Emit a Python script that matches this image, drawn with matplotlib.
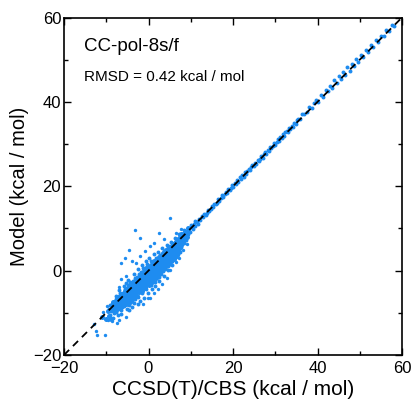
import matplotlib
matplotlib.use("Agg")
import matplotlib.pyplot as plt
from matplotlib.ticker import MultipleLocator

plt.rcParams['font.family'] = ['Liberation Sans', 'DejaVu Sans']

# ---- data (CCSD(T)/CBS reference, Model) ----
band_pts = [
    (-9.2,-8.1),(-8.8,-9.6),(-9.0,-10.4),(-8.6,-7.9),(-9.4,-9.0),(-8.3,-8.7),(-8.1,-10.1),(-8.5,-11.2),
    (-7.9,-7.2),(-8.0,-8.9),(-7.6,-9.8),(-7.7,-6.8),(-7.4,-8.2),(-7.2,-10.6),(-7.8,-5.9),(-7.1,-7.5),(-7.3,-9.1),
    (-6.9,-6.1),(-6.8,-8.0),(-6.6,-9.3),(-6.5,-7.0),(-6.7,-5.2),(-6.3,-8.6),(-6.2,-6.4),(-6.4,-10.2),(-6.0,-7.7),(-6.1,-5.6),(-6.9,-4.6),
    (-5.9,-5.0),(-5.8,-6.9),(-5.7,-8.4),(-5.5,-4.3),(-5.6,-6.0),(-5.4,-7.6),(-5.3,-5.3),(-5.2,-9.0),(-5.1,-6.6),(-5.0,-4.0),(-5.9,-3.6),(-5.4,-2.9),(-5.0,-7.9),
    (-4.9,-5.7),(-4.8,-3.4),(-4.7,-6.8),(-4.6,-4.6),(-4.5,-8.1),(-4.4,-5.2),(-4.3,-2.7),(-4.2,-6.1),(-4.1,-3.9),(-4.0,-7.2),(-4.9,-2.2),(-4.6,-9.4),(-4.2,-4.9),(-4.0,-5.6),
    (-3.9,-3.1),(-3.8,-4.4),(-3.7,-6.4),(-3.6,-2.4),(-3.5,-5.0),(-3.4,-7.7),(-3.3,-3.7),(-3.2,-1.8),(-3.1,-5.7),(-3.0,-4.2),(-3.9,-8.6),(-3.5,-0.9),(-3.2,-6.8),(-3.0,-2.9),
    (-2.9,-3.5),(-2.8,-1.4),(-2.7,-5.1),(-2.6,-2.6),(-2.5,-6.2),(-2.4,-4.0),(-2.3,-0.7),(-2.2,-3.1),(-2.1,-7.3),(-2.0,-1.9),(-2.9,-4.7),(-2.6,-8.0),(-2.4,0.3),(-2.0,-4.9),
    (-1.9,-2.4),(-1.8,-0.4),(-1.7,-3.6),(-1.6,-1.2),(-1.5,-5.3),(-1.4,-2.0),(-1.3,0.6),(-1.2,-3.0),(-1.1,-6.4),(-1.0,-0.8),(-1.9,-4.4),(-1.5,1.4),(-1.2,-1.6),(-1.0,-4.1),
    (-0.9,-1.5),(-0.8,0.4),(-0.7,-2.7),(-0.6,-0.2),(-0.5,-4.3),(-0.4,-1.1),(-0.3,1.5),(-0.2,-2.0),(-0.1,-5.2),(0.0,0.1),(-0.9,-3.3),(-0.6,2.2),(-0.3,-0.6),(0.0,-2.9),
    (0.1,-0.8),(0.2,1.2),(0.3,-1.9),(0.4,0.5),(0.5,-3.5),(0.6,-0.3),(0.7,2.3),(0.8,-1.2),(0.9,-4.4),(1.0,1.0),(0.2,3.1),(0.5,-2.4),(0.8,0.0),(1.0,-2.1),
    (1.1,0.4),(1.2,2.0),(1.3,-1.0),(1.4,1.3),(1.5,-2.6),(1.6,0.7),(1.7,3.0),(1.8,-0.3),(1.9,1.8),(2.0,-1.6),(1.3,3.9),(1.6,-3.7),(1.9,0.2),(2.0,2.5),
    (2.1,1.3),(2.2,3.1),(2.3,0.1),(2.4,2.0),(2.5,-1.4),(2.6,1.5),(2.7,3.8),(2.8,0.6),(2.9,2.6),(3.0,-0.7),(2.3,4.5),(2.6,-2.5),(2.9,1.2),(3.0,3.4),
    (3.1,2.3),(3.2,4.0),(3.3,1.0),(3.4,2.9),(3.5,-0.2),(3.6,2.4),(3.7,4.6),(3.8,1.6),(3.9,3.5),(4.0,0.4),(3.3,5.3),(3.6,-1.3),(3.9,2.2),(4.0,4.2),
    (4.1,3.2),(4.2,4.9),(4.3,2.0),(4.4,3.8),(4.5,1.0),(4.6,3.4),(4.7,5.5),(4.8,2.6),(4.9,4.4),(5.0,1.6),(4.3,6.0),(4.6,0.2),(4.9,3.1),(5.0,5.2),
    (5.1,4.1),(5.2,5.8),(5.3,3.0),(5.4,4.7),(5.5,2.2),(5.6,4.3),(5.7,6.4),(5.8,3.6),(5.9,5.3),(6.0,2.8),(5.3,6.9),(5.6,1.4),(5.9,4.6),(6.0,6.2),
    (6.1,5.1),(6.2,6.7),(6.3,4.0),(6.4,5.6),(6.5,3.3),(6.6,5.2),(6.7,7.2),(6.8,4.6),(6.9,6.2),(7.0,3.9),(6.3,7.8),(6.9,5.5),(7.0,7.0),
    (7.1,6.1),(7.2,7.6),(7.3,5.0),(7.4,6.6),(7.5,4.4),(7.6,6.3),(7.7,8.1),(7.8,5.6),(7.9,7.3),(8.0,6.9),(7.3,8.7),(8.0,8.4),
    (8.1,7.3),(8.3,8.2),(8.5,6.6),(8.6,9.0),(8.8,7.9),(9.0,8.5),(8.4,9.6),(8.9,7.2),(9.2,9.4),
    (9.4,8.8),(9.6,9.9),(9.9,9.2),(10.2,10.4),(10.5,9.8),(10.8,11.0),(11.1,10.6),(11.4,11.6),(11.7,11.1),(12.0,12.3),(10.0,10.9),(11.0,11.7),
]

core_pts = [
    (-8.4,-8.0),(-8.2,-9.1),(-8.0,-7.6),(-7.9,-8.5),(-7.7,-7.9),(-7.5,-7.0),(-7.4,-7.8),(-7.2,-8.4),(-7.0,-6.6),(-6.9,-7.3),
    (-6.7,-7.9),(-6.5,-6.0),(-6.4,-6.9),(-6.2,-7.4),(-6.0,-5.5),(-5.9,-6.4),(-5.7,-5.2),(-5.6,-7.1),(-5.4,-6.0),(-5.2,-4.7),
    (-5.1,-5.5),(-4.9,-6.3),(-4.8,-4.3),(-4.6,-5.4),(-4.5,-6.0),(-4.3,-4.0),(-4.2,-5.1),(-4.0,-4.5),(-3.9,-5.6),(-3.7,-3.5),
    (-3.6,-4.3),(-3.4,-5.2),(-3.3,-2.9),(-3.1,-3.9),(-3.0,-3.4),(-2.8,-4.2),(-2.7,-2.3),(-2.5,-3.3),(-2.4,-2.8),(-2.2,-4.0),
    (-2.1,-1.7),(-1.9,-3.0),(-1.8,-2.1),(-1.6,-2.9),(-1.5,-0.9),(-1.3,-2.3),(-1.2,-1.1),(-1.0,-2.2),(-0.9,-0.3),(-0.7,-1.4),
    (-0.6,-0.9),(-0.4,-1.9),(-0.3,0.3),(-0.1,-0.9),(0.0,-0.2),(0.2,-1.3),(0.3,0.8),(0.5,-0.4),(0.6,0.4),(0.8,-0.8),
    (0.9,1.4),(1.1,0.2),(1.2,1.0),(1.4,-0.1),(1.5,2.0),(1.7,1.0),(1.8,1.6),(2.0,0.8),(2.1,2.6),(2.3,1.6),
    (2.4,2.3),(2.6,1.2),(2.7,3.1),(2.9,2.2),(3.0,2.8),(3.2,1.8),(3.3,3.6),(3.5,2.7),(3.6,3.3),(3.8,2.5),
    (3.9,4.2),(4.1,3.6),(4.2,4.2),(4.4,3.0),(4.5,4.8),(4.7,4.0),(4.8,4.6),(5.0,3.7),(5.1,5.4),(5.3,4.5),
    (5.4,5.2),(5.6,4.6),(5.7,5.9),(5.9,5.0),(6.0,5.5),(6.2,4.9),(6.3,6.4),(6.5,5.8),(6.6,6.3),(6.8,5.6),
    (6.9,7.0),(7.1,6.5),(7.2,6.9),(7.4,6.0),(7.5,7.4),(7.7,7.0),(7.9,6.5),(8.1,7.9),
]

core2_pts = [
    (-8.7,-9.3),(-8.3,-7.4),(-8.1,-8.2),(-7.8,-9.4),(-7.6,-7.4),(-7.3,-6.5),(-7.1,-8.9),(-6.8,-7.0),(-6.6,-6.3),(-6.5,-8.3),
    (-6.3,-5.6),(-6.1,-6.8),(-5.9,-7.9),(-5.8,-5.8),(-5.6,-4.9),(-5.5,-6.6),(-5.3,-8.0),(-5.2,-5.9),(-5.0,-5.0),(-4.9,-7.0),
    (-4.7,-4.0),(-4.6,-6.0),(-4.5,-5.1),(-4.4,-7.4),(-4.3,-3.4),(-4.1,-4.6),(-4.0,-6.4),(-3.9,-4.1),(-3.8,-5.1),(-3.7,-2.9),
    (-3.6,-6.0),(-3.5,-4.0),(-3.4,-3.1),(-3.3,-4.7),(-3.2,-6.1),(-3.1,-2.5),(-3.0,-5.0),(-2.9,-2.8),(-2.8,-3.8),(-2.7,-6.0),
    (-2.6,-1.9),(-2.5,-4.5),(-2.4,-3.4),(-2.3,-2.1),(-2.2,-5.0),(-2.1,-3.6),(-2.0,-2.5),(-1.9,-1.2),(-1.8,-4.1),(-1.7,-2.4),
    (-1.6,-4.8),(-1.5,-1.7),(-1.4,-3.3),(-1.3,-0.4),(-1.2,-4.2),(-1.1,-2.6),(-1.0,-1.4),(-0.9,-3.8),(-0.8,-2.1),(-0.7,0.6),
    (-0.6,-3.1),(-0.5,-1.5),(-0.4,-0.4),(-0.3,-2.6),(-0.2,-1.2),(-0.1,0.8),(0.0,-1.5),(0.1,-3.5),(0.2,0.2),(0.3,-0.7),
    (0.4,-2.7),(0.5,1.3),(0.6,-1.5),(0.7,0.0),(0.8,-2.8),(0.9,0.6),(1.0,-0.6),(1.1,1.9),(1.2,-1.7),(1.3,0.5),
    (1.4,2.4),(1.5,-0.8),(1.6,1.6),(1.7,-1.7),(1.8,0.7),(1.9,2.8),(2.0,0.0),(2.1,1.9),(2.2,-0.8),(2.3,2.7),
    (2.4,0.9),(2.5,3.3),(2.6,0.2),(2.7,2.1),(2.8,-0.3),(2.9,3.5),(3.0,1.5),(3.1,0.5),(3.2,2.9),(3.3,2.0),
    (3.4,4.2),(3.5,1.2),(3.6,3.9),(3.7,2.1),(3.8,3.3),(3.9,0.9),(4.0,2.7),(4.1,4.8),(4.2,1.5),(4.3,3.4),
    (4.4,4.6),(4.5,2.4),(4.6,4.2),(4.7,1.6),(4.8,3.8),(4.9,5.5),(5.0,2.6),(5.1,4.7),(5.2,3.4),(5.3,5.6),
    (5.4,2.4),(5.5,4.2),(5.6,5.7),(5.7,3.3),(5.8,4.9),(5.9,6.3),(6.0,4.0),(6.1,2.7),(6.2,5.7),(6.3,4.6),
    (6.4,6.8),(6.5,4.4),(6.6,5.9),(6.7,3.8),(6.8,6.8),(6.9,4.8),(7.0,6.2),(7.1,7.6),(7.2,5.4),(7.3,6.4),
    (7.4,7.9),(7.5,5.7),(7.6,7.0),(7.7,6.0),(7.8,8.6),(7.9,6.9),(8.0,7.6),(8.2,8.6),(8.4,7.4),(8.7,8.3),
    (9.1,8.0),(9.3,10.0),(-9.6,-9.5),(-10.0,-11.5),(-11.0,-11.0),(-9.3,-10.8),(-8.9,-11.5),
]

outlier_pts = [
    (5.2,12.5),(-3.3,9.7),(2.6,9.0),(-2.1,7.8),(-4.5,5.0),(-5.5,3.1),(-6.4,1.7),(-6.4,-2.1),
    (6.6,2.1),(5.2,0.2),(-0.2,-6.4),(-1.2,-8.0),(-8.5,-7.8),(-9.5,-11.6),(-8.6,-12.0),
    (-13.0,-12.7),(-12.4,-14.4),(-12.1,-15.3),(-10.2,-15.3),(-10.8,-9.7),(-9.9,-8.3),(-7.5,-12.3),
    (-6.9,-11.6),(-5.3,-11.0),(-7.0,-3.8),(-5.4,-1.2),(-3.8,2.3),(-2.9,1.9),(-1.9,3.4),(-0.8,4.6),
    (0.3,5.8),(1.4,6.6),(0.3,-6.5),(1.2,-5.4),(2.2,-4.4),(3.3,-3.1),(4.4,-1.8),(7.3,3.0),(8.2,4.8),
    (9.1,6.2),(7.8,9.9),(6.5,9.0),(3.6,7.4),
]

line_pts = [
    (12.3,12.1),(12.6,12.9),(12.9,12.6),(13.2,13.4),(13.5,13.3),(13.8,13.6),(14.1,14.4),(14.4,14.2),(14.7,14.5),(15.0,15.3),
    (15.3,15.0),(15.6,15.8),(15.9,15.7),(16.2,16.0),(16.5,16.9),(16.8,16.6),(17.1,17.2),(17.4,17.9),(17.7,17.5),(18.0,18.1),
    (18.3,18.6),(18.6,18.4),(18.9,19.3),(19.2,19.0),(19.5,19.7),(19.8,20.2),(20.1,19.9),(20.4,20.8),(20.7,20.5),(21.0,21.4),
    (21.3,21.1),(21.6,22.1),(21.9,21.8),(22.2,22.6),(22.5,22.3),(22.8,23.3),(23.1,23.0),(23.4,23.5),(23.7,24.2),(24.0,23.8),
    (24.3,24.5),(24.6,25.1),(24.9,24.7),(25.2,25.6),(25.5,25.3),(25.8,26.3),(26.1,26.0),(26.4,26.5),(26.7,27.2),(27.0,26.8),
    (27.3,27.6),(27.6,28.1),(27.9,27.7),(28.2,28.6),(28.5,28.4),(28.8,29.3),(29.1,29.0),(29.4,29.6),(29.7,30.2),(30.0,29.8),
    (30.3,30.6),(30.6,31.1),(30.9,30.7),(31.2,31.6),(31.5,31.4),(31.8,32.3),(32.1,32.0),(32.4,32.8),(32.7,33.2),(33.0,32.9),
    (33.3,33.9),(33.6,33.5),(33.9,34.4),(34.2,34.1),(34.5,35.1),(34.8,34.7),(35.1,35.6),(35.4,35.9),
    (35.8,36.0),(36.3,37.1),(36.9,37.2),(37.4,37.5),(38.0,38.9),(38.6,38.5),(39.1,39.8),(39.7,40.4),(40.2,40.0),(40.8,41.6),
    (41.3,41.2),(41.9,42.7),(42.4,42.5),(42.9,43.8),(43.4,43.3),(44.0,45.2),(44.5,44.4),(45.0,46.1),(45.6,45.5),(46.1,47.0),
    (46.6,46.4),(47.1,48.2),(47.6,47.4),(48.2,49.0),(48.7,48.5),(49.2,50.1),(49.7,49.5),(50.3,51.2),(50.8,50.7),(51.4,52.3),
    (52.0,51.8),(52.6,53.4),(53.2,53.0),(53.8,54.7),(54.4,54.2),(55.0,55.6),(55.7,55.5),(56.3,57.1),(57.0,56.8),(57.6,58.3),(58.2,58.0),
]

diag = [-20, 60]
x_ticks = [-20, 0, 20, 40, 60]
y_ticks = [-20, 0, 20, 40, 60]

title_text = "CC-pol-8s/f"
rmsd_text = "RMSD = 0.42 kcal / mol"
xlabel = "CCSD(T)/CBS (kcal / mol)"
ylabel = "Model (kcal / mol)"

# ---- figure ----
fig = plt.figure(figsize=(4.12, 4.04), dpi=100)
ax = fig.add_axes([64/412, 49/404, 338/412, 337.5/404])

pt_color = "#1e8cf0"
for pts, sz in ((band_pts, 8), (core_pts, 13), (core2_pts, 13), (outlier_pts, 6), (line_pts, 8)):
    xs = [p[0] for p in pts]
    ys = [p[1] for p in pts]
    ax.scatter(xs, ys, s=sz, color=pt_color, marker='o', linewidths=0, zorder=2)

ax.plot(diag, diag, color='black', linestyle=(0, (4, 3)), linewidth=1.3, zorder=3)

ax.set_xlim(-20, 60)
ax.set_ylim(-20, 60)
ax.set_xticks(x_ticks)
ax.set_yticks(y_ticks)
ax.xaxis.set_minor_locator(MultipleLocator(10))
ax.yaxis.set_minor_locator(MultipleLocator(10))
ax.tick_params(which='both', direction='in', top=True, right=True, labelsize=12, colors='black', width=1)
ax.tick_params(which='major', length=5)
ax.tick_params(axis='x', which='major', pad=4)
ax.tick_params(axis='y', which='major', pad=2)
ax.tick_params(which='minor', length=3)
for sp in ax.spines.values():
    sp.set_linewidth(1.2)

ax.set_xlabel(xlabel, fontsize=15, labelpad=3)
ax.set_ylabel(ylabel, fontsize=14.5, labelpad=3)

ax.text(0.06, 0.915, title_text, transform=ax.transAxes, fontsize=13.5, va='center', ha='left')
ax.text(0.06, 0.825, rmsd_text, transform=ax.transAxes, fontsize=11, va='center', ha='left')

fig.savefig("out.png", dpi=100)
